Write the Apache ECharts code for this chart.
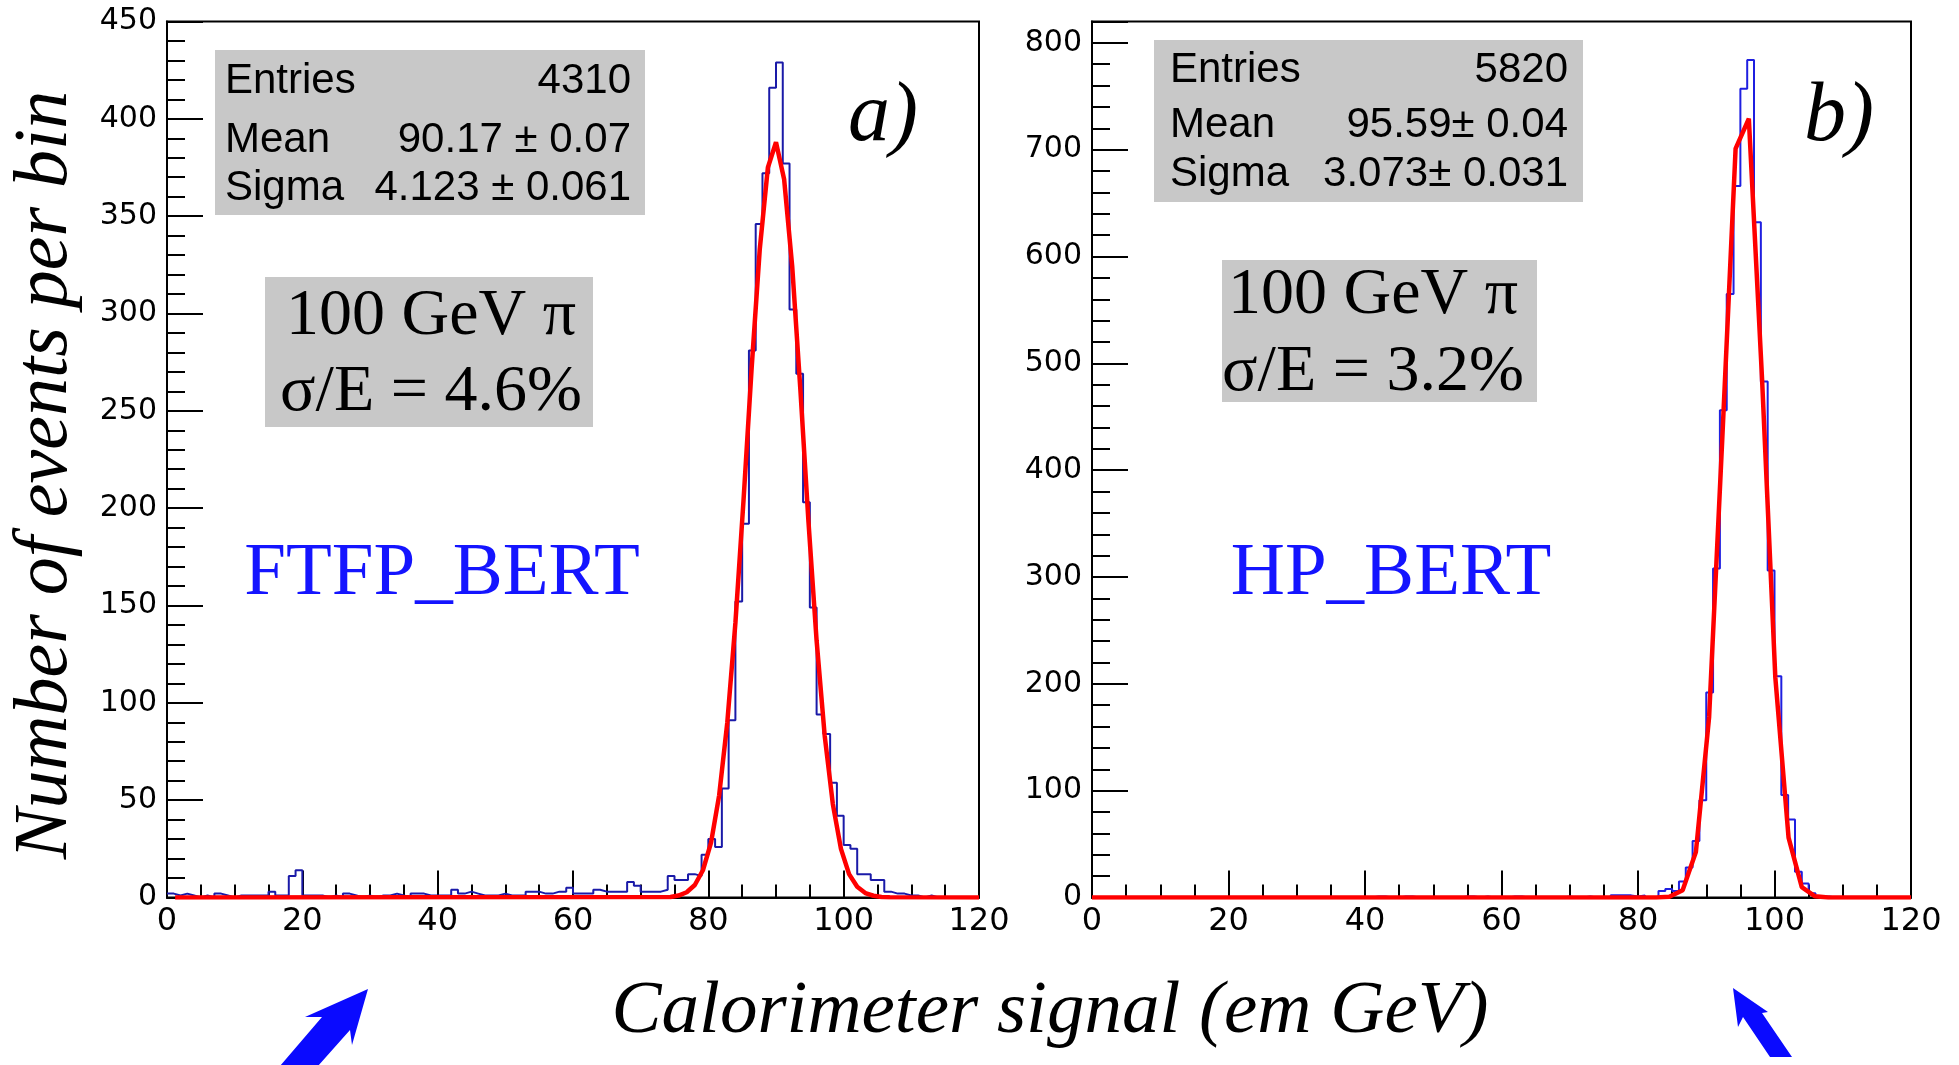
<!DOCTYPE html>
<html>
<head>
<meta charset="utf-8">
<script src="https://cdn.jsdelivr.net/npm/echarts@6/dist/echarts.min.js"></script>
<style>
html,body{margin:0;padding:0;background:#fff;}
#chart{width:1959px;height:1065px;}
</style>
</head>
<body>
<div id="chart"></div>
<script>
// ---------------- DATA ----------------
// histogram bin contents, 1 GeV bins from 0 to 120
const histA = [
  2,1,2,1,0,1,0,2,1,0, 1,1,1,1,1,3,1,1,11,14,
  1,1,1,0,1,0,2,1,0,1, 0,1,1,2,1,0,2,2,1,1,
  1,1,4,2,3,2,1,1,1,2, 1,1,1,3,3,2,2,3,3,5,
  2,2,2,4,3,3,3,3,8,6, 3,3,3,4,11,9,9,12,11,22,
  30,26,56,91,152,192,281,346,372,416, 429,377,302,269,203,149,94,84,59,42,
  27,25,12,12,9,9,3,2,2,1, 1,0,1,0,0,0,0,0,0,0
];
const histB = [
  0,0,0,0,0,0,0,0,0,0, 0,0,0,0,0,0,0,0,0,0,
  0,0,0,0,0,0,0,0,0,0, 0,0,0,0,0,0,0,0,0,0,
  0,1,1,0,0,1,1,0,0,0, 0,0,0,0,1,1,0,1,0,0,
  0,1,1,0,0,0,0,0,0,1, 0,0,1,0,0,0,2,2,2,1,
  2,0,0,6,8,6,15,28,53,91, 192,308,456,565,666,757,784,632,483,306,
  207,96,73,24,13,4,1,1,0,0, 0,0,0,0,0,0,0,0,0,0
];
// fitted curves as drawn (x, y)
const fitAx = [1.2,74.4,75.6,76.8,78.0,79.2,80.4,81.6,82.8,84.0,85.2,86.4,87.6,88.8,90.0,91.2,92.4,93.6,94.8,96.0,97.2,98.4,99.6,100.8,102.0,103.2,104.4,105.6,106.8,120];
const fitAy = [0,0.3,1.0,2.7,6.4,14.0,28.2,52.5,89.8,141,204,272,333,375,388,369,324,261,193,132,83,48,25,12,5.5,2.3,0.9,0.3,0.1,0];
const fitBx = [0,82.66,84.6,86.54,88.48,90.42,92.36,94.3,96.24,98.18,100.12,102.06,104.0,105.94,107.88,120];
const fitBy = [0,0.1,0.7,6.8,42.5,169,431,701,729,485,206,56,9.7,1.1,0.1,0];

const statsA = [["Entries","4310"],["Mean","90.17 \u00b1 0.07"],["Sigma","4.123 \u00b1 0.061"]];
const statsB = [["Entries","5820"],["Mean","95.59\u00b1 0.04"],["Sigma","3.073\u00b1 0.031"]];
const labelA = ["100 GeV \u03c0","\u03c3/E = 4.6%","FTFP_BERT","a)"];
const labelB = ["100 GeV \u03c0","\u03c3/E = 3.2%","HP_BERT","b)"];
const yTitle = "Number of events per bin";
const xTitle = "Calorimeter signal (em GeV)";

// ---------------- BUILD ----------------
function stepData(h){
  const d = h.map((v,i)=>[i,v]);
  d.push([h.length, h[h.length-1]]);
  return d;
}
function pairs(xs,ys){ return xs.map((x,i)=>[x,ys[i]]); }

const SANS = '"Liberation Sans", Arial, Helvetica, sans-serif';
const TICKFONT = '"DejaVu Sans", sans-serif';
const SERIF = '"Liberation Serif", "Times New Roman", serif';

function xAxisCfg(gi){
  return {
    type:'value', gridIndex:gi, min:0, max:120, interval:20,
    axisLine:{show:true, onZero:false, lineStyle:{color:'#000', width:2}},
    axisTick:{show:true, inside:true, length:27, lineStyle:{color:'#000', width:2}},
    minorTick:{show:true, splitNumber:4, length:13, lineStyle:{color:'#000', width:2}},
    axisLabel:{color:'#000', fontSize:32, fontFamily:TICKFONT, margin:8},
    splitLine:{show:false}
  };
}
function yAxisCfg(gi,max,interval){
  return {
    type:'value', gridIndex:gi, min:0, max:max, interval:interval,
    axisLine:{show:true, lineStyle:{color:'#000', width:2}},
    axisTick:{show:true, inside:true, length:36, lineStyle:{color:'#000', width:2}},
    minorTick:{show:true, splitNumber:5, length:18, lineStyle:{color:'#000', width:2}},
    axisLabel:{color:'#000', fontSize:30, fontFamily:TICKFONT, margin:10, showMaxLabel: max % interval === 0},
    splitLine:{show:false}
  };
}

const graphics = [];
function statBox(x,y,w,h,rows,lx,rx,ys){
  graphics.push({type:'rect', shape:{x:x,y:y,width:w,height:h}, style:{fill:'#c8c8c8'}, z:10});
  rows.forEach((r,i)=>{
    graphics.push({type:'text', z:11, style:{text:r[0], x:lx, y:ys[i], fill:'#000', font:'42px '+SANS, textAlign:'left', textVerticalAlign:'middle'}});
    graphics.push({type:'text', z:11, style:{text:r[1], x:rx, y:ys[i], fill:'#000', font:'42px '+SANS, textAlign:'right', textVerticalAlign:'middle'}});
  });
}
statBox(215,50,430,165,statsA,225,631,[81,140,188]);
statBox(1154,40,429,162,statsB,1170,1568,[70,125,174]);

function labelBox(x,y,w,h,l1,l2,cx,y1,y2){
  graphics.push({type:'rect', shape:{x:x,y:y,width:w,height:h}, style:{fill:'#c8c8c8'}, z:10});
  graphics.push({type:'text', z:11, style:{text:l1, x:cx, y:y1, fill:'#000', font:'66px '+SERIF, textAlign:'center', textVerticalAlign:'middle'}});
  graphics.push({type:'text', z:11, style:{text:l2, x:cx, y:y2, fill:'#000', font:'66px '+SERIF, textAlign:'center', textVerticalAlign:'middle'}});
}
labelBox(265,277,328,150,labelA[0],labelA[1],431,317,393);
labelBox(1222,260,315,142,labelB[0],labelB[1],1373,296,373);

graphics.push({type:'text', z:11, style:{text:labelA[2], x:442, y:574, fill:'#1414ff', font:'75px '+SERIF, textAlign:'center', textVerticalAlign:'middle'}});
graphics.push({type:'text', z:11, style:{text:labelB[2], x:1391, y:574, fill:'#1414ff', font:'75px '+SERIF, textAlign:'center', textVerticalAlign:'middle'}});
graphics.push({type:'text', z:11, style:{text:labelA[3], x:883, y:118, fill:'#000', font:'italic 84px '+SERIF, textAlign:'center', textVerticalAlign:'middle'}});
graphics.push({type:'text', z:11, style:{text:labelB[3], x:1839, y:118, fill:'#000', font:'italic 84px '+SERIF, textAlign:'center', textVerticalAlign:'middle'}});

// axis titles
graphics.push({type:'text', z:11, x:46, y:475, rotation:Math.PI/2, style:{text:yTitle, x:0, y:0, fill:'#000', font:'italic 76px '+SERIF, textAlign:'center', textVerticalAlign:'middle'}});
graphics.push({type:'text', z:11, style:{text:xTitle, x:1050, y:1012, fill:'#000', font:'italic 75px '+SERIF, textAlign:'center', textVerticalAlign:'middle'}});

// arrows (annotations)
graphics.push({type:'polygon', z:11, shape:{points:[[368,989],[352,1045],[350,1030],[318,1066],[280,1066],[322,1017],[305,1017]]}, style:{fill:'#0a0aff'}});
graphics.push({type:'polygon', z:11, shape:{points:[[1733,988],[1768,1012],[1762,1013],[1792,1057],[1770,1057],[1743,1017],[1738,1027]]}, style:{fill:'#0a0aff'}});

const option = {
  animation:false,
  backgroundColor:'#fff',
  grid:[
    {left:167, top:21.5, width:812, height:876, show:true, borderColor:'#000', borderWidth:2, backgroundColor:'transparent'},
    {left:1092, top:21.5, width:819, height:876, show:true, borderColor:'#000', borderWidth:2, backgroundColor:'transparent'}
  ],
  xAxis:[xAxisCfg(0), xAxisCfg(1)],
  yAxis:[yAxisCfg(0,450,50), yAxisCfg(1,820,100)],
  series:[
    {type:'line', xAxisIndex:0, yAxisIndex:0, step:'end', data:stepData(histA), symbol:'none', lineStyle:{color:'#1a1aa8', width:2}, z:3},
    {type:'line', xAxisIndex:0, yAxisIndex:0, data:pairs(fitAx,fitAy), symbol:'none', lineStyle:{color:'#ff0000', width:4.5}, z:4},
    {type:'line', xAxisIndex:1, yAxisIndex:1, step:'end', data:stepData(histB), symbol:'none', lineStyle:{color:'#1f1fe0', width:2}, z:3},
    {type:'line', xAxisIndex:1, yAxisIndex:1, data:pairs(fitBx,fitBy), symbol:'none', lineStyle:{color:'#ff0000', width:4.5}, z:4}
  ],
  graphic:graphics
};
const chart = echarts.init(document.getElementById('chart'), null, {renderer:'canvas'});
chart.setOption(option);
</script>
</body>
</html>
